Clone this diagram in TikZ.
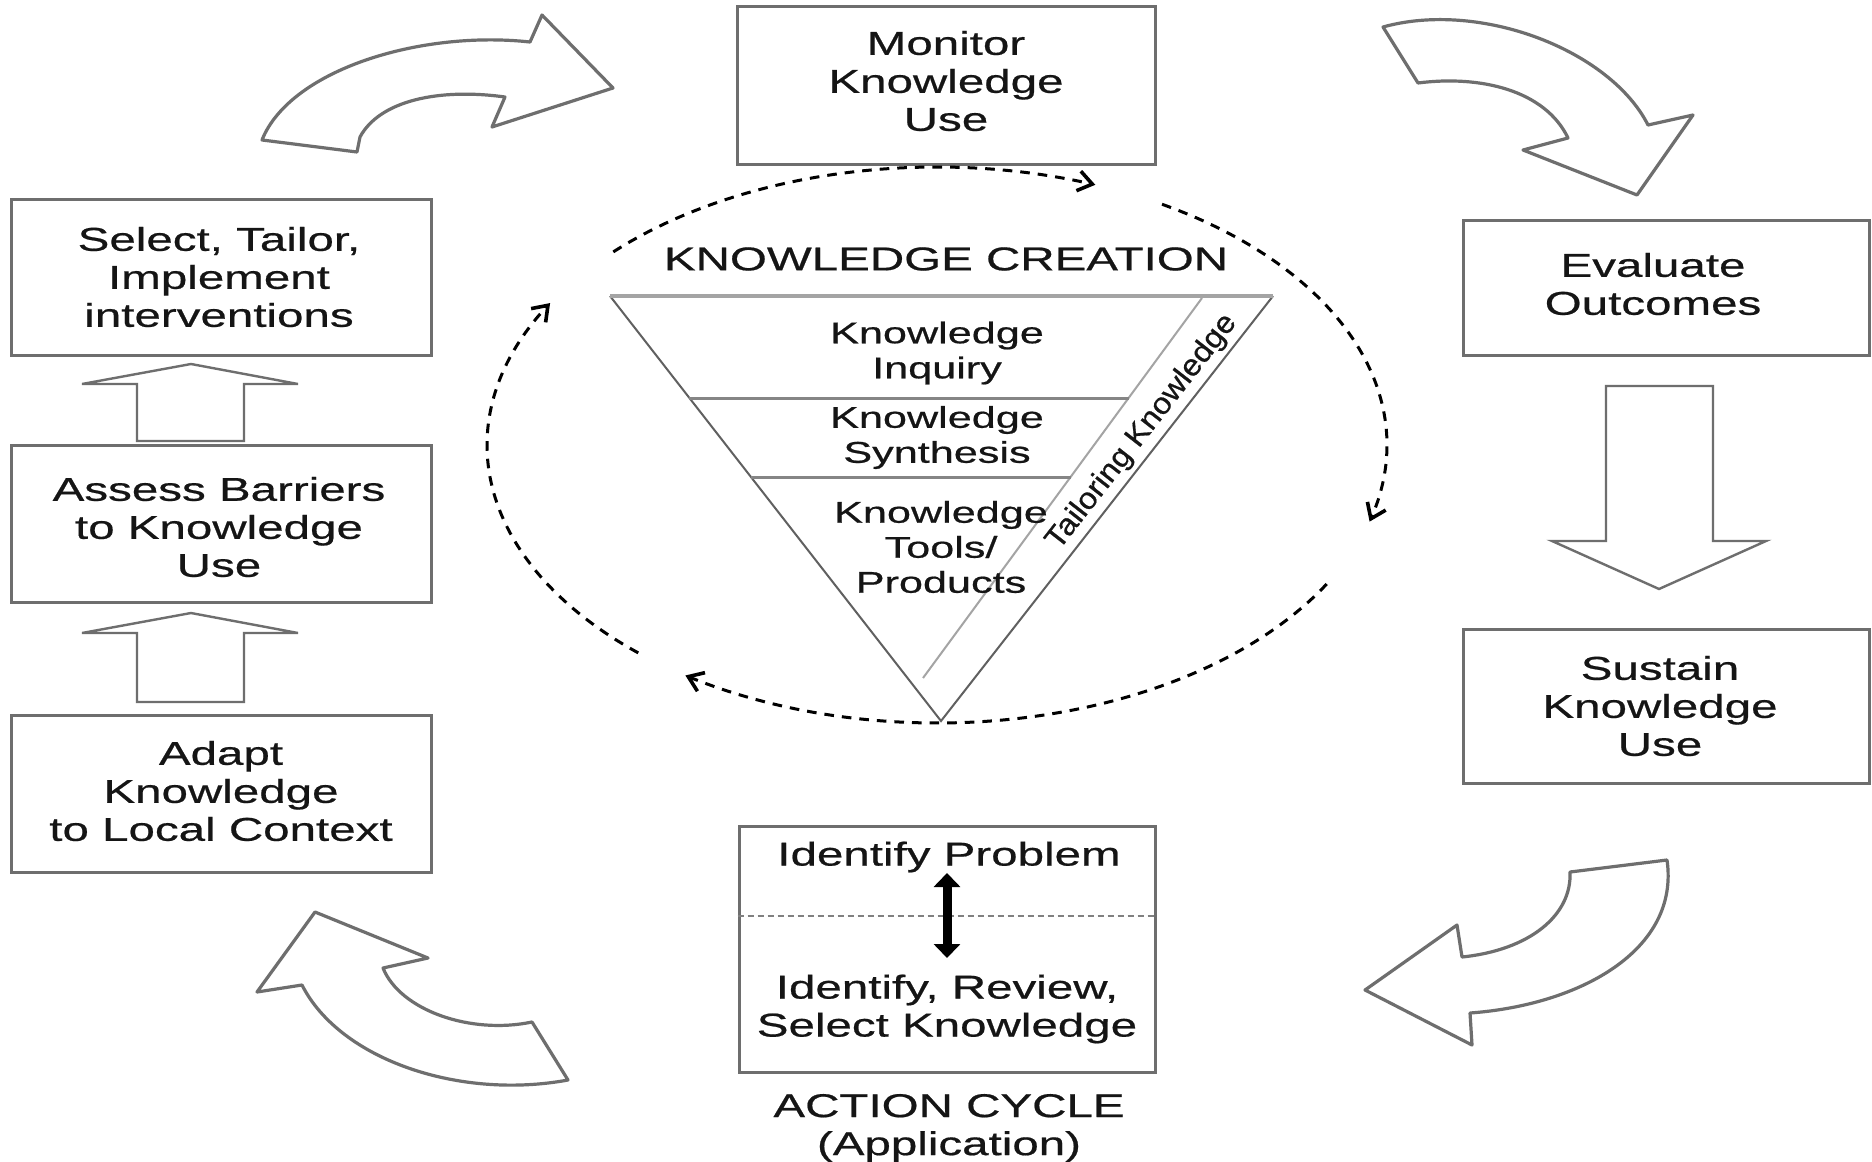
\documentclass[tikz,border=0pt]{standalone}
\usepackage{fontspec}
\setmainfont{Liberation Sans}
\newfontfamily\widefont{Liberation Sans}[FakeStretch=1.44,FakeBold=0.6]
\newfontfamily\tailfont{Liberation Sans}[FakeStretch=1.08,FakeBold=0.6]
\usetikzlibrary{arrows.meta}
\definecolor{bordergray}{HTML}{6E6E6E}
\definecolor{edgegray}{HTML}{606060}
\definecolor{lightedge}{HTML}{A4A4A4}
\definecolor{midedge}{HTML}{858585}
\definecolor{inkcol}{HTML}{151515}
\newcommand\bxfont{\widefont\fontsize{16.5pt}{19pt}\selectfont}
\newcommand\trfont{\widefont\fontsize{15pt}{17.5pt}\selectfont}
\newcommand\tkfont{\tailfont\fontsize{15pt}{17pt}\selectfont}
\tikzset{
  box/.style={draw=bordergray, line width=1.5pt, fill=white, inner sep=0pt},
  plain/.style={align=center, font=\bxfont, text=inkcol, inner sep=0pt},
  trtext/.style={align=center, font=\trfont, text=inkcol, inner sep=0pt},
  blockarrow/.style={draw=bordergray, line width=1.2pt, fill=white, line join=miter},
  curvearrow/.style={draw=bordergray, line width=1.6pt, fill=white, line join=round},
  cyc/.style={draw=black, line width=1.5pt, dash pattern=on 4.8pt off 4pt,
    -{Straight Barb[length=7pt,width=10pt,line width=1.8pt]}},
}
\begin{document}
\begin{tikzpicture}[x=0.5pt,y=-0.5pt]
\useasboundingbox (0,0) rectangle (1872,1161);
\fill[white] (0,0) rectangle (1872,1161);

% ---------- boxes ----------
\node[box, minimum width=209pt, minimum height=78.5pt] (mon) at (946,85.5) {};
\node[box, minimum width=210pt, minimum height=78pt] (sel) at (221,277) {};
\node[box, minimum width=210pt, minimum height=78.5pt] (ass) at (221,523.5) {};
\node[box, minimum width=210pt, minimum height=78.5pt] (ada) at (221,793.5) {};
\node[box, minimum width=203pt, minimum height=67.5pt] (eva) at (1666,287.5) {};
\node[box, minimum width=203pt, minimum height=77pt] (sus) at (1666,706) {};
\node[box, minimum width=208pt, minimum height=123pt] (idbox) at (947,949) {};

\node[plain] (tmon) at (946,81) {Monitor\\Knowledge\\Use};
\node[plain] (tsel) at (219,277) {Select, Tailor,\\Implement\\interventions};
\node[plain] (tass) at (219,527) {Assess Barriers\\to Knowledge\\Use};
\node[plain] (tada) at (221,791) {Adapt\\Knowledge\\to Local Context};
\node[plain] (teva) at (1653,284) {Evaluate\\Outcomes};
\node[plain] (tsus) at (1660,706) {Sustain\\Knowledge\\Use};

\draw[draw=gray, line width=0.6pt, dash pattern=on 3pt off 2pt] (idbox.west |- 0,916) -- (idbox.east |- 0,916);
\node[plain] (idp) at (949,857) {Identify Problem};
\node[plain] (irs) at (947,1009) {Identify, Review,\\Select Knowledge};
\coordinate (dtop) at (947,873);
\coordinate (dbot) at (947,958);
\draw[line width=4.5pt, {Triangle[length=7pt,width=13pt]}-{Triangle[length=7pt,width=13pt]}] (dtop) -- (dbot);
\node[plain] (act) at (949,1128) {ACTION CYCLE\\(Application)};

% ---------- straight block arrows ----------
\draw[blockarrow] (137,441) -- (137,384) -- (82,384) -- (191,364) -- (298,384) -- (244,384) -- (244,441) -- cycle;
\draw[blockarrow] (137,702) -- (137,633) -- (82,633) -- (191,613) -- (298,633) -- (244,633) -- (244,702) -- cycle;
\draw[blockarrow] (1606,386) -- (1606,541) -- (1552,541) -- (1659,589) -- (1766,541) -- (1713,541) -- (1713,386) -- cycle;

% ---------- curved block arrows ----------
% top left
\draw[curvearrow] (262,140) -- (357,152) -- (360,137)
  .. controls (380,100) and (440,88) .. (505,97)
  -- (492,127) -- (613,88) -- (542,15) -- (530,42)
  .. controls (420,30) and (290,70) .. (262,140) -- cycle;
% top right
\draw[curvearrow] (1383,27)
  .. controls (1480,0) and (1610,50) .. (1648,125)
  -- (1693,115) -- (1637,195) -- (1523,150) -- (1568,138)
  .. controls (1545,90) and (1480,75) .. (1418,83) -- cycle;
% bottom right
\draw[curvearrow] (1570,872) -- (1667,860)
  .. controls (1680,950) and (1580,1005) .. (1470,1013)
  -- (1472,1045) -- (1365,990) -- (1457,925) -- (1462,957)
  .. controls (1530,950) and (1572,915) .. (1570,872) -- cycle;
% bottom left
\draw[curvearrow] (315,912) -- (428,958) -- (383,968)
  .. controls (400,1010) and (470,1035) .. (532,1022)
  -- (568,1080)
  .. controls (460,1100) and (340,1060) .. (302,985)
  -- (257,992) -- cycle;

% ---------- knowledge creation funnel ----------
\coordinate (t1) at (610,296);
\coordinate (t2) at (1273,296);
\coordinate (t3) at (941,721);
\coordinate (s1) at (1202,298);
\coordinate (s2) at (923,678);
\draw[edgegray, line width=1pt] (t1) -- (t3) -- (t2);
\draw[lightedge, line width=2pt] (t1) -- (t2);
\draw[lightedge, line width=1pt] (s1) -- (s2);
\draw[midedge, line width=1.5pt] (689,398) -- (1129,398);
\draw[midedge, line width=1.5pt] (751,477) -- (1071,477);

\node[plain] (kc) at (946,259) {KNOWLEDGE CREATION};
\node[trtext] (kinq) at (937,353) {Knowledge\\Inquiry};
\node[trtext] (ksyn) at (937,437.5) {Knowledge\\Synthesis};
\node[trtext] (ktool) at (941,547) {Knowledge\\Tools/\\Products};
\node[font=\tkfont, text=inkcol, inner sep=0pt, rotate=52] (tail) at (1142,432) {Tailoring Knowledge};

% ---------- dashed knowledge-to-action cycle ----------
\draw[cyc] plot[domain=224:290.6, samples=90] ({937+450*cos(\x)},{445+278*sin(\x)});
\draw[cyc] plot[domain=-60:16, samples=90] ({937+450*cos(\x)},{445+278*sin(\x)});
\draw[cyc] plot[domain=30:124, samples=90] ({937+450*cos(\x)},{445+278*sin(\x)});
\draw[cyc] plot[domain=131.6:210.7, samples=90] ({937+450*cos(\x)},{445+278*sin(\x)});
\end{tikzpicture}
\end{document}
